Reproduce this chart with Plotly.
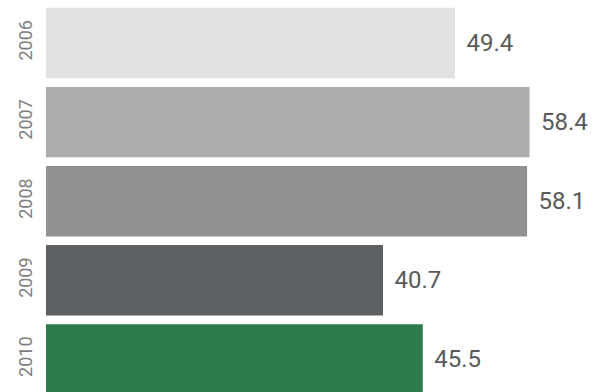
import plotly.graph_objects as go

years = ["2006", "2007", "2008", "2009", "2010"]
values = [49.4, 58.4, 58.1, 40.7, 45.5]
colors = ["#e0e2e3", "#abadaf", "#8f9193", "#5e6163", "#2e7b4b"]

fig = go.Figure(
    go.Bar(
        x=values,
        y=years,
        orientation="h",
        marker=dict(color=colors, line=dict(width=0)),
        width=0.89,
        text=["\u00a0\u200a" + f"{v:.1f}" for v in values],
        textposition="outside",
        textfont=dict(family="Roboto", size=24, color="#5a5a5a"),
        cliponaxis=False,
    )
)

fig.update_layout(
    width=595,
    height=392,
    margin=dict(l=46, r=0, t=0, b=0),
    paper_bgcolor="white",
    plot_bgcolor="white",
    showlegend=False,
    xaxis=dict(range=[0, 66.3], visible=False, fixedrange=True, automargin=False),
    yaxis=dict(
        type="category",
        range=[4.412, -0.544],
        automargin=False,
        tickangle=-90,
        tickfont=dict(family="Roboto", size=18, color="#808080"),
        showgrid=False,
        showline=False,
        zeroline=False,
        ticks="outside",
        ticklen=6,
        tickcolor="rgba(0,0,0,0)",
    ),
)

fig.write_html(
    "out.html",
    config={"displayModeBar": False},
    post_script="document.body.style.margin='0';document.body.style.overflow='hidden';",
)
